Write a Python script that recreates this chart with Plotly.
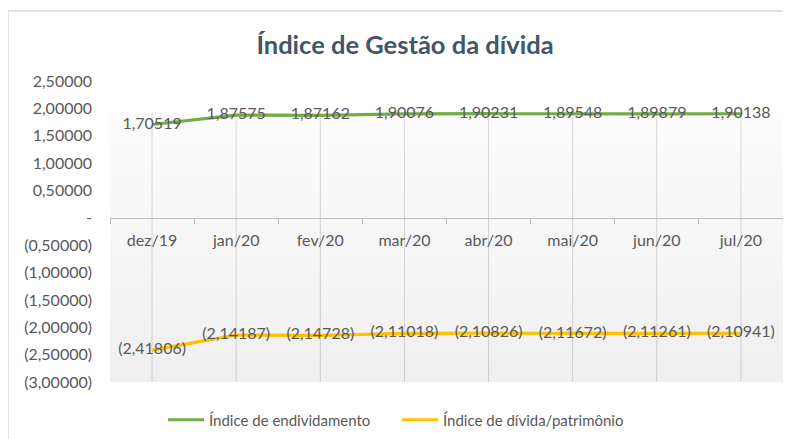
import plotly.graph_objects as go

categories = ["dez/19", "jan/20", "fev/20", "mar/20", "abr/20", "mai/20", "jun/20", "jul/20"]
endividamento = [1.70519, 1.87575, 1.87162, 1.90076, 1.90231, 1.89548, 1.89879, 1.90138]
divida_patrimonio = [-2.41806, -2.14187, -2.14728, -2.11018, -2.10826, -2.11672, -2.11261, -2.10941]
ytick_vals = [2.5, 2.0, 1.5, 1.0, 0.5, 0.0, -0.5, -1.0, -1.5, -2.0, -2.5, -3.0]

def fmt(v):
    s = f"{abs(v):.5f}".replace(".", ",")
    if abs(v) < 1e-12:
        return "-"
    return f"({s})" if v < 0 else s

def fmt_label(v):
    s = f"{abs(v):.5f}".replace(".", ",")
    return f"({s})" if v < 0 else s

FONT = "Lato, 'Open Sans', sans-serif"
GRAY = "#595959"
xs = list(range(len(categories)))
ymin, ymax = -3.0, 2.5

# the page body adds an 8px offset; work in reference-pixel coordinates
OFF = 8
W, H = 791 - OFF, 439 - OFF
PL, PR, PT, PB = 110, 783, 81, 382  # plot area edges in reference pixels
ml, mr, mt, mb = PL - OFF, (W + OFF) - PR, PT - OFF, (H + OFF) - PB
pw, ph = PR - PL, PB - PT

def px_x(p):
    return (p - PL) / pw

def px_y(p):
    return (PB - p) / ph

# top edge of the shaded inner area (pixel 113 in the reference)
shade_top = ymin + (PB - 113) / ph * (ymax - ymin)

fig = go.Figure()

# shaded inner area with a vertical gradient (semi-transparent so gridlines show)
fig.add_trace(go.Scatter(
    x=[-0.5, 7.5, 7.5, -0.5, -0.5], y=[ymin, ymin, shade_top, shade_top, ymin],
    mode="lines", line=dict(width=0), fill="toself",
    fillgradient=dict(type="vertical",
                      colorscale=[[0, "rgba(0,0,0,0.062)"], [0.4, "rgba(0,0,0,0.04)"],
                                  [1, "rgba(0,0,0,0.012)"]]),
    showlegend=False, hoverinfo="skip"))

fig.add_trace(go.Scatter(
    x=xs, y=endividamento, mode="lines+text", name="Índice de endividamento",
    line=dict(color="#70AD47", width=3.2),
    text=[fmt_label(v) for v in endividamento], textposition="middle center",
    textfont=dict(family=FONT, size=16, color=GRAY)))

fig.add_trace(go.Scatter(
    x=xs, y=divida_patrimonio, mode="lines+text", name="Índice de dívida/patrimônio",
    line=dict(color="#FFC000", width=3.2),
    text=[fmt_label(v) for v in divida_patrimonio], textposition="middle center",
    textfont=dict(family=FONT, size=16, color=GRAY)))

shapes = [dict(type="line", xref="x", yref="y", x0=i, x1=i, y0=ymin, y1=shade_top,
               line=dict(color="#d9d9d9", width=1), layer="below") for i in xs]
shapes.append(dict(type="rect", xref="paper", yref="paper",
                   x0=px_x(8), y0=px_y(470), x1=px_x(830), y1=px_y(11),
                   line=dict(color="#d9d9d9", width=1.5), fillcolor="rgba(0,0,0,0)", layer="below"))

fig.update_layout(
    width=W, height=H,
    margin=dict(l=ml, r=mr, t=mt, b=mb, autoexpand=False),
    paper_bgcolor="white", plot_bgcolor="white",
    font=dict(family=FONT, color=GRAY),
    title=dict(text="<b>Índice de Gestão da dívida</b>", x=(405 - OFF) / W, xanchor="center",
               y=1 - (45 - OFF) / H, yanchor="middle",
               font=dict(family=FONT, size=25.5, color="#44546A")),
    xaxis=dict(range=[-0.5, 7.5], tickvals=xs, ticktext=categories,
               showgrid=False,
               ticks="", showline=True, linecolor="#bfbfbf", linewidth=1,
               anchor="free", position=(0 - ymin) / (ymax - ymin),
               tickfont=dict(family=FONT, size=16, color=GRAY),
               ticklabelstandoff=8,
               minor=dict(tickvals=[i - 0.5 for i in range(len(categories) + 1)],
                          ticks="outside", ticklen=5, tickcolor="#bfbfbf", showgrid=False),
               zeroline=False, fixedrange=True),
    yaxis=dict(range=[ymin, ymax], tickvals=ytick_vals, ticktext=[fmt(v) for v in ytick_vals],
               showgrid=False, zeroline=False, showline=False, ticks="",
               tickfont=dict(family=FONT, size=16, color=GRAY),
               ticklabelstandoff=17, fixedrange=True),
    legend=dict(orientation="h", xref="container", yref="container",
                x=(163 - OFF) / W, xanchor="left", y=1 - (420 - OFF) / H, yanchor="middle",
                font=dict(family=FONT, size=15, color=GRAY), itemwidth=36,
                entrywidth=183, entrywidthmode="pixels",
                bgcolor="rgba(0,0,0,0)", tracegroupgap=0),
    shapes=shapes,
)

fig.write_html("out.html")
